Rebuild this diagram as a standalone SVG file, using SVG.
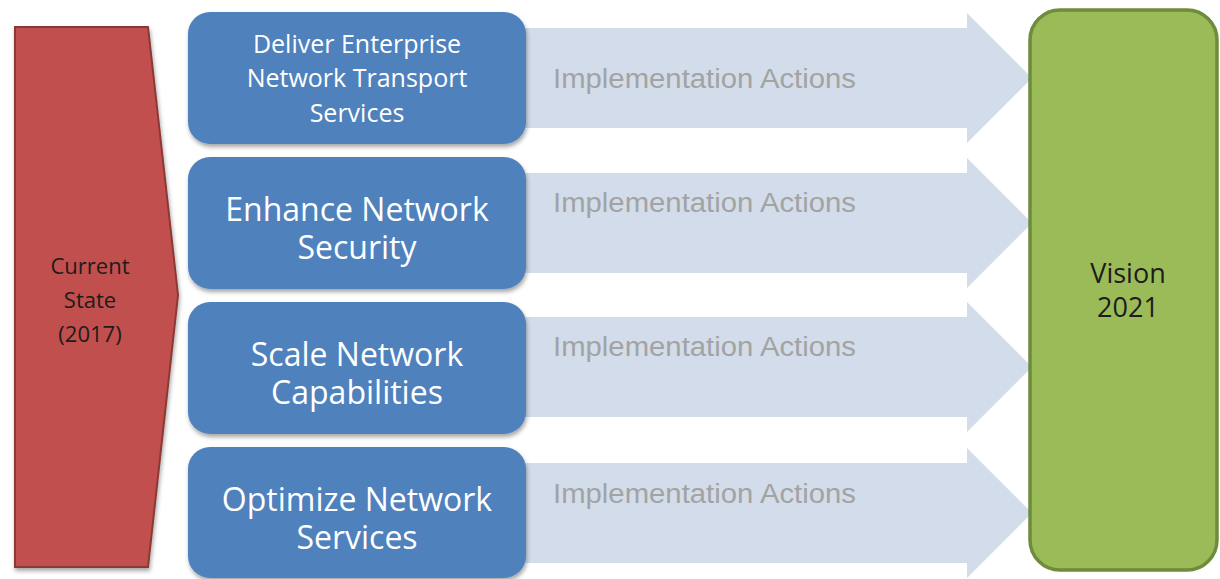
<svg xmlns="http://www.w3.org/2000/svg" width="1220" height="579" viewBox="0 0 1220 579">
  <defs>
    <filter id="shadow" x="-10%" y="-10%" width="120%" height="120%">
      <feDropShadow dx="1" dy="3" stdDeviation="2" flood-color="#000" flood-opacity="0.35"/>
    </filter>
    <path id="blockArrow" d="M0,-50 H447 V-65 L512,0 L447,65 V50 H0 Z"/>
  </defs>
  <style>
    .arrow { fill: #d2dcea; }
    .arrowText { font-family: "Liberation Sans", Arial, sans-serif; font-size: 27px; fill: #a3a3a3; }
    .blue { fill: #4f81bd; filter: url(#shadow); }
    .blueText { font-family: "Open Sans", "Noto Sans", sans-serif; fill: #ffffff; text-anchor: middle; }
    .red { fill: #c0504d; stroke: #8c3836; stroke-width: 2; filter: url(#shadow); }
    .green { fill: #9bbb59; stroke: #6f8b3c; stroke-width: 3.5; }
    .darkText { font-family: "Open Sans", "Noto Sans", sans-serif; fill: #1c1c1c; text-anchor: middle; }
  </style>

  <rect width="1220" height="579" fill="#ffffff"/>

  <g id="connectors">
    <g id="arrow1"><use href="#blockArrow" class="arrow" transform="translate(520,78)"/>
      <text class="arrowText" x="553" y="88" textLength="303" lengthAdjust="spacingAndGlyphs">Implementation Actions</text></g>
    <g id="arrow2"><use href="#blockArrow" class="arrow" transform="translate(520,223)"/>
      <text class="arrowText" x="553" y="212" textLength="303" lengthAdjust="spacingAndGlyphs">Implementation Actions</text></g>
    <g id="arrow3"><use href="#blockArrow" class="arrow" transform="translate(520,367)"/>
      <text class="arrowText" x="553" y="356" textLength="303" lengthAdjust="spacingAndGlyphs">Implementation Actions</text></g>
    <g id="arrow4"><use href="#blockArrow" class="arrow" transform="translate(520,513)"/>
      <text class="arrowText" x="553" y="503" textLength="303" lengthAdjust="spacingAndGlyphs">Implementation Actions</text></g>
  </g>

  <g id="current-state">
    <polygon class="red" points="15,27 148,27 178,295 148,567 15,567"/>
    <text class="darkText" font-size="22" x="90" y="274">Current</text>
    <text class="darkText" font-size="22" x="90" y="308">State</text>
    <text class="darkText" font-size="22" x="90" y="342">(2017)</text>
  </g>

  <g id="deliver">
    <rect class="blue" x="188" y="12" width="338" height="132" rx="22"/>
    <text class="blueText" font-size="25" x="357" y="53">Deliver Enterprise</text>
    <text class="blueText" font-size="25" x="357" y="87">Network Transport</text>
    <text class="blueText" font-size="25" x="357" y="122">Services</text>
  </g>

  <g id="enhance">
    <rect class="blue" x="188" y="157" width="338" height="132" rx="22"/>
    <text class="blueText" font-size="32" x="357" y="221">Enhance Network</text>
    <text class="blueText" font-size="32" x="357" y="259">Security</text>
  </g>

  <g id="scale">
    <rect class="blue" x="188" y="302" width="338" height="132" rx="22"/>
    <text class="blueText" font-size="32" x="357" y="366">Scale Network</text>
    <text class="blueText" font-size="32" x="357" y="404">Capabilities</text>
  </g>

  <g id="optimize">
    <rect class="blue" x="188" y="447" width="338" height="131" rx="22"/>
    <text class="blueText" font-size="32" x="357" y="511">Optimize Network</text>
    <text class="blueText" font-size="32" x="357" y="549">Services</text>
  </g>

  <g id="vision">
    <rect class="green" x="1030" y="10" width="187" height="560" rx="30"/>
    <text class="darkText" font-size="27" x="1128" y="283">Vision</text>
    <text class="darkText" font-size="27" x="1128" y="317">2021</text>
  </g>
</svg>
